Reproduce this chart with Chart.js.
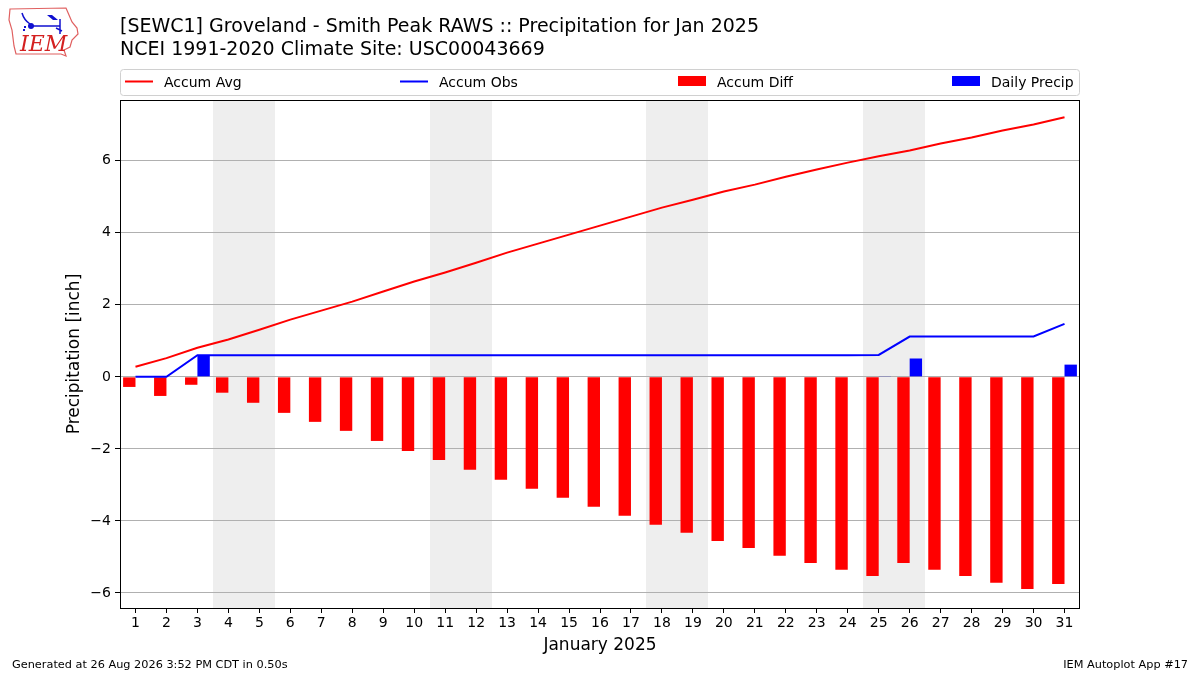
<!DOCTYPE html>
<html>
<head>
<meta charset="utf-8">
<script src="https://cdn.jsdelivr.net/npm/chart.js@4.4.1/dist/chart.umd.min.js"></script>
<style>
  html, body { margin: 0; padding: 0; background: #fff; }
  #wrap { width: 1200px; height: 675px; }
</style>
</head>
<body>
<div id="wrap"><canvas id="precipChart" width="1200" height="675"></canvas></div>
<script>
// values
const days = [1, 2, 3, 4, 5, 6, 7, 8, 9, 10, 11, 12, 13, 14, 15, 16, 17, 18, 19, 20, 21, 22, 23, 24, 25, 26, 27, 28, 29, 30, 31];
const accumAvg = [0.28, 0.52, 0.81, 1.04, 1.31, 1.59, 1.84, 2.09, 2.37, 2.65, 2.90, 3.17, 3.45, 3.70, 3.95, 4.20, 4.45, 4.70, 4.92, 5.15, 5.34, 5.56, 5.76, 5.95, 6.13, 6.29, 6.48, 6.65, 6.84, 7.01, 7.21];
const accumObs = [0, 0, 0.60, 0.60, 0.60, 0.60, 0.60, 0.60, 0.60, 0.60, 0.60, 0.60, 0.60, 0.60, 0.60, 0.60, 0.60, 0.60, 0.60, 0.60, 0.60, 0.60, 0.60, 0.60, 0.61, 1.12, 1.12, 1.12, 1.12, 1.12, 1.47];
const accumDiff = [-0.28, -0.53, -0.22, -0.44, -0.72, -1.00, -1.25, -1.50, -1.78, -2.06, -2.31, -2.58, -2.86, -3.11, -3.36, -3.61, -3.86, -4.11, -4.33, -4.56, -4.75, -4.97, -5.17, -5.36, -5.53, -5.17, -5.36, -5.53, -5.72, -5.89, -5.75];
const dailyPrecip = [0, 0, 0.60, 0, 0, 0, 0, 0, 0, 0, 0, 0, 0, 0, 0, 0, 0, 0, 0, 0, 0, 0, 0, 0, 0.01, 0.51, 0, 0, 0, 0, 0.34];
// first day of each weekend (Sat), each band covers Sat + Sun
const weekendStarts = [4, 11, 18, 25];
const yTicks = [-6, -4, -2, 0, 2, 4, 6];

const FONT = "'DejaVu Sans', 'Liberation Sans', sans-serif";

const titleLines = [
    '[SEWC1] Groveland - Smith Peak RAWS :: Precipitation for Jan 2025',
    'NCEI 1991-2020 Climate Site: USC00043669',
];
const legendItems = [
    { label: 'Accum Avg', color: '#ff0000', kind: 'line' },
    { label: 'Accum Obs', color: '#0000ff', kind: 'line' },
    { label: 'Accum Diff', color: '#ff0000', kind: 'patch' },
    { label: 'Daily Precip', color: '#0000ff', kind: 'patch' },
];
// left edge of each legend column, from the legend box's left edge
const legendOffsets = [5, 280, 558, 832];

const toPoints = (vals) => days.map((d, i) => ({ x: d, y: vals[i] }));

// white page + weekend bands, drawn under the grid
const backdrop = {
    id: 'backdrop',
    beforeDraw(chart) {
        const { ctx, chartArea, scales } = chart;
        ctx.save();
        ctx.fillStyle = '#ffffff';
        ctx.fillRect(0, 0, chart.width, chart.height);
        ctx.fillStyle = '#eeeeee';
        weekendStarts.forEach((d) => {
            const x0 = Math.round(scales.x.getPixelForValue(d - 0.5));
            const x1 = Math.round(scales.x.getPixelForValue(d + 1.5));
            ctx.fillRect(x0, chartArea.top, x1 - x0, chartArea.bottom - chartArea.top);
        });
        ctx.restore();
    },
};

function drawLogo(ctx) {
    ctx.save();
    // state outline
    ctx.strokeStyle = '#e06060';
    ctx.lineWidth = 1.2;
    ctx.beginPath();
    ctx.moveTo(10, 9);
    ctx.lineTo(66, 8);
    ctx.lineTo(69, 15);
    ctx.lineTo(72, 22);
    ctx.lineTo(77, 28);
    ctx.lineTo(78, 34);
    ctx.lineTo(72, 40);
    ctx.lineTo(70, 47);
    ctx.lineTo(64, 50);
    ctx.lineTo(66, 56);
    ctx.lineTo(61, 54);
    ctx.lineTo(16, 54);
    ctx.lineTo(14, 46);
    ctx.lineTo(12, 30);
    ctx.lineTo(9, 20);
    ctx.closePath();
    ctx.stroke();
    // weather station glyph
    ctx.strokeStyle = '#1010d0';
    ctx.fillStyle = '#1010d0';
    ctx.lineWidth = 1.5;
    ctx.beginPath();
    ctx.moveTo(22, 13);
    ctx.quadraticCurveTo(24, 20, 30, 24);
    ctx.moveTo(30, 26);
    ctx.lineTo(60, 26);
    ctx.moveTo(60, 19);
    ctx.lineTo(60, 34);
    ctx.moveTo(56, 28);
    ctx.lineTo(62, 31);
    ctx.stroke();
    ctx.beginPath();
    ctx.arc(31, 26, 3, 0, Math.PI * 2);
    ctx.fill();
    ctx.beginPath();
    ctx.moveTo(47, 15);
    ctx.lineTo(52, 15);
    ctx.lineTo(58, 20);
    ctx.lineTo(53, 20);
    ctx.closePath();
    ctx.fill();
    ctx.fillRect(24, 26, 2, 2);
    ctx.fillRect(23, 29, 2, 2);
    // text
    ctx.fillStyle = '#d42020';
    ctx.font = "italic 22px 'DejaVu Serif', 'Liberation Serif', serif";
    ctx.textAlign = 'left';
    ctx.textBaseline = 'alphabetic';
    ctx.fillText('IEM', 20, 51);
    ctx.restore();
}

// frame, titles, legend, axis titles and footer
const decorations = {
    id: 'decorations',
    afterDraw(chart) {
        const { ctx, chartArea } = chart;
        ctx.save();

        ctx.strokeStyle = '#000000';
        ctx.lineWidth = 1;
        ctx.strokeRect(chartArea.left + 0.5, chartArea.top + 0.5,
            chartArea.right - chartArea.left - 1, chartArea.bottom - chartArea.top);

        ctx.fillStyle = '#000000';
        ctx.textAlign = 'left';
        ctx.textBaseline = 'alphabetic';
        ctx.font = '19px ' + FONT;
        ctx.fillText(titleLines[0], 120, 32);
        ctx.fillText(titleLines[1], 120, 55);

        // legend box
        const lx = chartArea.left, lw = chartArea.right - chartArea.left;
        const ly = 69, lh = 26;
        ctx.beginPath();
        ctx.roundRect(lx + 0.5, ly + 0.5, lw - 1, lh, 3);
        ctx.fillStyle = 'rgba(255,255,255,0.8)';
        ctx.fill();
        ctx.strokeStyle = '#d0d0d0';
        ctx.stroke();
        ctx.font = '14px ' + FONT;
        legendItems.forEach((item, i) => {
            const x = lx + legendOffsets[i];
            if (item.kind === 'line') {
                ctx.strokeStyle = item.color;
                ctx.lineWidth = 2;
                ctx.beginPath();
                ctx.moveTo(x, 81.5);
                ctx.lineTo(x + 28, 81.5);
                ctx.stroke();
            } else {
                ctx.fillStyle = item.color;
                ctx.fillRect(x, 76, 28, 10);
            }
            ctx.fillStyle = '#000000';
            ctx.fillText(item.label, x + 39, 87);
        });

        // axis titles
        ctx.font = '17px ' + FONT;
        ctx.textAlign = 'center';
        ctx.fillText('January 2025', (chartArea.left + chartArea.right) / 2, 650);
        ctx.save();
        ctx.translate(79, (chartArea.top + chartArea.bottom) / 2);
        ctx.rotate(-Math.PI / 2);
        ctx.fillText('Precipitation [inch]', 0, 0);
        ctx.restore();

        // footer
        ctx.font = '11.3px ' + FONT;
        ctx.textAlign = 'left';
        ctx.fillText('Generated at 26 Aug 2026 3:52 PM CDT in 0.50s', 12, 668);
        ctx.textAlign = 'right';
        ctx.fillText('IEM Autoplot App #17', 1188, 668);

        drawLogo(ctx);
        ctx.restore();
    },
};

const ctx = document.getElementById('precipChart').getContext('2d');

new Chart(ctx, {
    type: 'bar',
    data: {
        datasets: [
            {
                type: 'line',
                label: 'Accum Avg',
                data: toPoints(accumAvg),
                borderColor: '#ff0000',
                borderWidth: 2,
                pointRadius: 0,
                tension: 0,
            },
            {
                type: 'line',
                label: 'Accum Obs',
                data: toPoints(accumObs),
                borderColor: '#0000ff',
                borderWidth: 2,
                pointRadius: 0,
                tension: 0,
            },
            {
                label: 'Accum Diff',
                data: toPoints(accumDiff),
                backgroundColor: '#ff0000',
                borderWidth: 0,
                categoryPercentage: 0.8,
                barPercentage: 1.0,
            },
            {
                label: 'Daily Precip',
                data: toPoints(dailyPrecip),
                backgroundColor: '#0000ff',
                borderWidth: 0,
                categoryPercentage: 0.8,
                barPercentage: 1.0,
            },
        ],
    },
    options: {
        responsive: false,
        animation: false,
        devicePixelRatio: 1,
        layout: { padding: { top: 100, right: 120, left: 0, bottom: 0 } },
        plugins: {
            legend: { display: false },
            title: { display: false },
            tooltip: { enabled: false },
        },
        scales: {
            x: {
                type: 'linear',
                min: 0.5,
                max: 31.5,
                offset: false,
                afterBuildTicks: (scale) => {
                    scale.ticks = days.map((d) => ({ value: d }));
                },
                afterFit: (scale) => {
                    scale.height = 67;
                },
                grid: {
                    offset: false,
                    drawOnChartArea: false,
                    tickColor: '#000000',
                    tickLength: 5,
                },
                border: { display: false },
                ticks: {
                    color: '#000000',
                    font: { family: FONT, size: 14 },
                    padding: 2,
                    maxRotation: 0,
                    autoSkip: false,
                    callback: (v) => String(v),
                },
            },
            y: {
                min: -6.42,
                max: 7.69,
                afterBuildTicks: (scale) => {
                    scale.ticks = yTicks.map((v) => ({ value: v }));
                },
                afterFit: (scale) => {
                    scale.width = 120;
                },
                grid: {
                    color: '#b0b0b0',
                    lineWidth: 1,
                    tickColor: '#000000',
                    tickLength: 5,
                },
                border: { display: false },
                ticks: {
                    color: '#000000',
                    font: { family: FONT, size: 14 },
                    padding: 4,
                    callback: (v) => (v < 0 ? '\u2212' + Math.abs(v) : String(v)),
                },
            },
        },
    },
    plugins: [backdrop, decorations],
});
</script>
</body>
</html>
